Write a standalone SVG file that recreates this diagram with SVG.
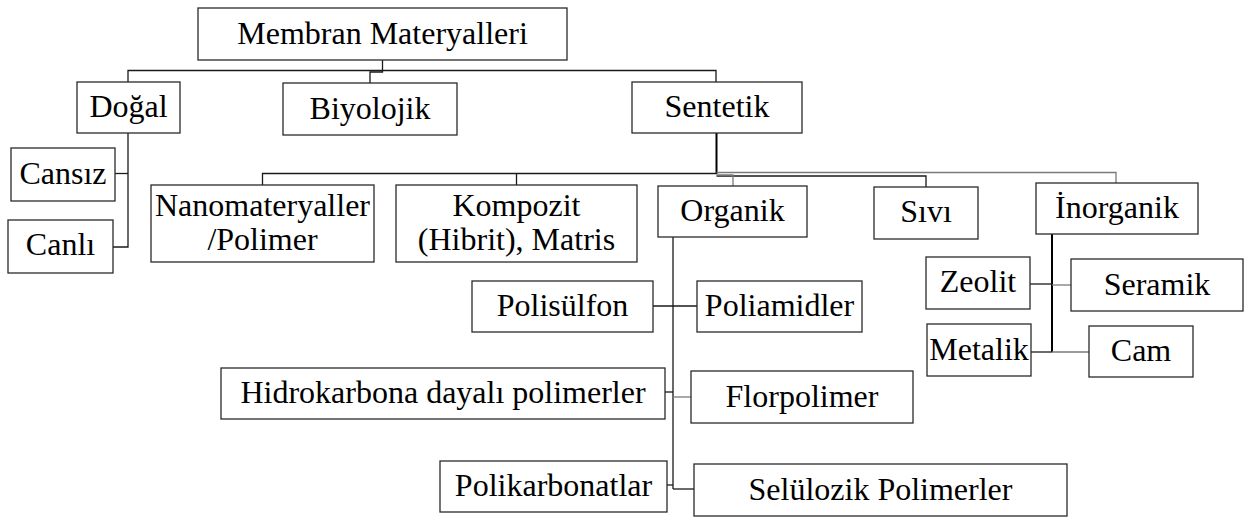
<svg xmlns="http://www.w3.org/2000/svg" width="1245" height="519" viewBox="0 0 1245 519">
  <style>
    .box { fill: #ffffff; stroke: #2a2a2a; stroke-width: 1.3; }
    .lbl { font-size: 32px; fill: #000000; text-anchor: middle; }
    .ln { fill: none; stroke: #1a1a1a; stroke-width: 1.3; }
    .lg { fill: none; stroke: #7a7a7a; stroke-width: 1.3; }
    .lb { fill: none; stroke: #000000; stroke-width: 2; }
  </style>
  <rect width="1245" height="519" fill="#ffffff"/>

  <!-- connectors -->
  <g id="connectors">
    <!-- root to first level -->
    <path class="ln" d="M382.5 60 V72 H370 V83"/>
    <path class="ln" d="M128 82 V70.5 H716 V82"/>
    <!-- Doğal children -->
    <path class="ln" d="M128 133 V247 H113"/>
    <path class="ln" d="M115 173.5 H128"/>
    <!-- Sentetik children -->
    <path class="lb" d="M716.5 133 V174"/>
    <path class="ln" d="M262.5 185 V173.5 H716.5"/>
    <path class="ln" d="M516.5 173.5 V185"/>
    <path class="lg" d="M716.5 172.5 H1116 V183"/>
    <path class="ln" d="M716.5 176 H926 V187"/>
    <path class="lg" d="M716.5 175 H733 V186"/>
    <!-- Organik children -->
    <path class="ln" d="M673 237 V489"/>
    <path class="ln" d="M653 306 H697"/>
    <path class="ln" d="M665 392 H673"/>
    <path class="lg" d="M673 397 H691"/>
    <path class="ln" d="M667 485 H673"/>
    <path class="ln" d="M673 489 H694"/>
    <!-- İnorganik children -->
    <path class="lb" d="M1052 234 V352"/>
    <path class="ln" d="M1030 284 H1052"/>
    <path class="lg" d="M1052 285 H1071"/>
    <path class="ln" d="M1031 352 H1052"/>
    <path class="lg" d="M1052 352 H1089"/>
  </g>

  <g id="nodes" font-family="'Liberation Serif', Tinos, 'Times New Roman', 'DejaVu Serif', serif">
  <g id="membran-materyalleri">
    <rect class="box" x="198" y="8" width="369" height="52"/>
    <text class="lbl" x="382.5" y="44">Membran Materyalleri</text>
  </g>
  <g id="dogal">
    <rect class="box" x="77" y="82" width="103" height="51"/>
    <text class="lbl" x="128.5" y="117">Doğal</text>
  </g>
  <g id="biyolojik">
    <rect class="box" x="283" y="83" width="174" height="52"/>
    <text class="lbl" x="370" y="119">Biyolojik</text>
  </g>
  <g id="sentetik">
    <rect class="box" x="632" y="82" width="170" height="51"/>
    <text class="lbl" x="717" y="117">Sentetik</text>
  </g>
  <g id="cansiz">
    <rect class="box" x="11" y="148" width="104" height="53"/>
    <text class="lbl" x="63" y="184">Cansız</text>
  </g>
  <g id="canli">
    <rect class="box" x="8" y="220" width="105" height="53"/>
    <text class="lbl" x="60.5" y="255">Canlı</text>
  </g>
  <g id="nanomateryaller">
    <rect class="box" x="151" y="185" width="223" height="77"/>
    <text class="lbl" x="262.5" y="216">Nanomateryaller</text>
    <text class="lbl" x="262.5" y="250">/Polimer</text>
  </g>
  <g id="kompozit">
    <rect class="box" x="396" y="185" width="241" height="77"/>
    <text class="lbl" x="516.5" y="216">Kompozit</text>
    <text class="lbl" x="516.5" y="250">(Hibrit), Matris</text>
  </g>
  <g id="organik">
    <rect class="box" x="658" y="186" width="149" height="51"/>
    <text class="lbl" x="732.5" y="221">Organik</text>
  </g>
  <g id="sivi">
    <rect class="box" x="874" y="187" width="104" height="52"/>
    <text class="lbl" x="926" y="222">Sıvı</text>
  </g>
  <g id="inorganik">
    <rect class="box" x="1036" y="183" width="162" height="51"/>
    <text class="lbl" x="1117" y="218">İnorganik</text>
  </g>
  <g id="polisulfon">
    <rect class="box" x="472" y="281" width="181" height="51"/>
    <text class="lbl" x="562.5" y="316">Polisülfon</text>
  </g>
  <g id="poliamidler">
    <rect class="box" x="697" y="281" width="165" height="51"/>
    <text class="lbl" x="779.5" y="316">Poliamidler</text>
  </g>
  <g id="hidrokarbona">
    <rect class="box" x="221" y="368" width="444" height="51"/>
    <text class="lbl" x="443" y="403">Hidrokarbona dayalı polimerler</text>
  </g>
  <g id="florpolimer">
    <rect class="box" x="691" y="371" width="222" height="52"/>
    <text class="lbl" x="802" y="406.5">Florpolimer</text>
  </g>
  <g id="polikarbonatlar">
    <rect class="box" x="440" y="461" width="227" height="51"/>
    <text class="lbl" x="553.5" y="496">Polikarbonatlar</text>
  </g>
  <g id="seluloz">
    <rect class="box" x="694" y="464" width="373" height="52"/>
    <text class="lbl" x="880.5" y="499.5">Selülozik Polimerler</text>
  </g>
  <g id="zeolit">
    <rect class="box" x="926" y="257" width="104" height="52"/>
    <text class="lbl" x="978" y="292">Zeolit</text>
  </g>
  <g id="seramik">
    <rect class="box" x="1071" y="259" width="172" height="52"/>
    <text class="lbl" x="1157" y="294.5">Seramik</text>
  </g>
  <g id="metalik">
    <rect class="box" x="927" y="324" width="104" height="52"/>
    <text class="lbl" x="979" y="359.5">Metalik</text>
  </g>
  <g id="cam">
    <rect class="box" x="1089" y="326" width="104" height="51"/>
    <text class="lbl" x="1141" y="361">Cam</text>
  </g>
  </g>
</svg>
